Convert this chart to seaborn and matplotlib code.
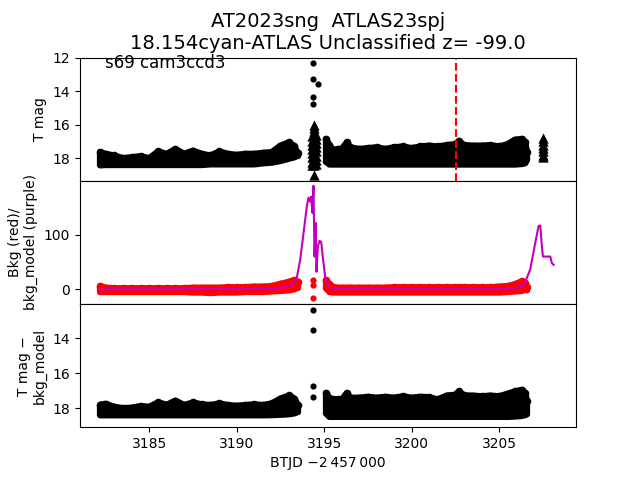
import numpy as np
import matplotlib
matplotlib.use("Agg")
import matplotlib.pyplot as plt
import seaborn as sns

# =========================
# DATA
# =========================

# first orbit, time grid and band envelopes
t_left = [3182.2, 3182.5, 3183.0, 3183.5, 3184.0, 3184.5, 3185.0, 3185.5, 3186.0,
          3186.5, 3187.0, 3187.5, 3188.0, 3188.5, 3189.0, 3189.5, 3190.0, 3190.5,
          3191.0, 3191.5, 3192.0, 3192.5, 3193.0, 3193.3, 3193.5]
mag_left_hi = [17.64, 17.74, 17.84, 18.0, 17.94, 17.88, 18.0, 17.6, 17.74,
               17.45, 17.74, 17.55, 17.74, 17.84, 17.6, 17.74, 17.8, 17.74,
               17.74, 17.68, 17.64, 17.25, 17.05, 17.3, 17.7]
mag_left_lo = [18.43, 18.41, 18.41, 18.41, 18.41, 18.41, 18.41, 18.41, 18.41,
               18.41, 18.41, 18.41, 18.41, 18.37, 18.37, 18.37, 18.37, 18.37,
               18.37, 18.31, 18.27, 18.17, 18.03, 17.95, 17.85]

# second orbit
t_right = [3195.1, 3195.3, 3195.5, 3195.8, 3196.0, 3196.3, 3196.5, 3197.0, 3197.5,
           3198.0, 3198.5, 3199.0, 3199.5, 3200.0, 3200.5, 3201.0, 3201.5, 3202.0,
           3202.5, 3202.7, 3203.0, 3203.5, 3204.0, 3204.5, 3205.0, 3205.5, 3205.9,
           3206.3, 3206.5, 3206.6]
mag_right_hi = [16.85, 17.2, 17.5, 17.45, 17.45, 17.05, 17.35, 17.45, 17.4,
                17.35, 17.45, 17.35, 17.3, 17.4, 17.3, 17.25, 17.3, 17.22,
                17.16, 16.97, 17.22, 17.25, 17.25, 17.22, 17.3, 17.16, 16.9,
                16.85, 17.05, 17.64]
mag_right_lo = [18.2, 18.38, 18.38, 18.38, 18.38, 18.38, 18.38, 18.38, 18.38,
                18.38, 18.38, 18.38, 18.38, 18.38, 18.38, 18.38, 18.38, 18.38,
                18.38, 18.38, 18.38, 18.38, 18.38, 18.38, 18.38, 18.38, 18.38,
                18.35, 18.3, 18.1]

# bright outliers and upper limits (top panel)
t_spike = [3194.39, 3194.39, 3194.62, 3194.39, 3194.39]
mag_spike = [12.32, 13.3, 13.6, 14.33, 14.79]
t_lim = [3194.42, 3194.42, 3194.42, 3194.42, 3194.42, 3194.42, 3194.42, 3194.42,
         3194.42, 3194.42, 3194.42, 3194.42, 3194.42,
         3194.33, 3194.33, 3194.33, 3194.33, 3194.33, 3194.33, 3194.33, 3194.33,
         3194.51, 3194.51, 3194.51, 3194.51, 3194.51, 3194.51, 3194.51, 3194.51,
         3194.42,
         3207.49, 3207.49, 3207.49, 3207.49, 3207.49, 3207.49, 3207.49]
mag_lim = [16.0, 16.2, 16.4, 16.6, 16.8, 17.0, 17.2, 17.4, 17.6, 17.8, 18.0, 18.2, 18.4,
           16.7, 16.95, 17.2, 17.45, 17.7, 17.95, 18.2, 18.4,
           16.6, 16.85, 17.1, 17.35, 17.6, 17.85, 18.1, 18.35,
           19.03,
           16.8, 17.0, 17.2, 17.4, 17.6, 17.8, 17.95]

# background flux (red) envelopes
bkg_left_hi = [6, 3, 2, 2, 2, 2, 2, 2, 2, 2, 2, 3, 3, 3, 3, 4, 4, 4, 5, 5, 6, 10, 14, 17, 14]
bkg_left_lo = [-5, -5, -5, -5, -5, -5, -5, -5, -5, -5, -5, -6, -6, -7, -6, -6, -6, -5,
               -5, -5, -4, -3, -2, 0, 3]
bkg_right_hi = [17, 10, 4, 3, 3, 3, 3, 3, 3, 3, 3, 4, 4, 4, 4, 4, 4, 4, 4, 4, 4, 4, 4,
                4, 5, 6, 9, 15, 12, 5]
bkg_right_lo = [2, -5, -6, -6, -6, -6, -6, -6, -6, -6, -6, -6, -6, -6, -6, -6, -6, -6,
                -6, -6, -6, -6, -6, -6, -6, -5, -4, -3, -1, -2]
t_bkg_gap = [3194.39, 3194.39, 3194.39]
bkg_gap = [17, 8, -16.6]

# background model (purple)
model_t = [3182.2, 3186.0, 3190.0, 3192.0, 3192.86, 3193.24, 3193.44, 3193.63, 3193.82,
           3194.01, 3194.1, 3194.2, 3194.25, 3194.33, 3194.39, 3194.45, 3194.51,
           3194.56, 3194.64, 3194.73, 3194.83, 3194.92, 3195.06, 3195.25, 3195.5,
           3198.0, 3202.0, 3205.0, 3205.83, 3206.4, 3206.78, 3207.07, 3207.26,
           3207.36, 3207.45, 3207.51, 3207.93, 3208.02, 3208.12]
model_v = [0, 0, 1, 2, 4, 10, 22, 54, 103, 152, 168, 161, 170, 140, 190, 60, 122, 32,
           78, 89, 87, 60, 23, 4, 1, 1, 1, 1, 2, 6, 36, 85, 116, 117, 78, 60, 60, 48, 45]

# background-subtracted magnitude (bottom panel)
sub_left_hi = [17.8, 17.75, 17.92, 18.0, 17.97, 17.88, 17.92, 17.67, 17.8,
               17.57, 17.82, 17.67, 17.78, 17.82, 17.73, 17.82, 17.86, 17.82,
               17.78, 17.82, 17.73, 17.45, 17.27, 17.45, 17.82]
sub_left_lo = [18.41, 18.41, 18.41, 18.41, 18.41, 18.41, 18.41, 18.41, 18.41,
               18.41, 18.41, 18.41, 18.41, 18.41, 18.41, 18.41, 18.41, 18.41,
               18.41, 18.41, 18.4, 18.38, 18.35, 18.3, 18.22]
sub_right_hi = [17.13, 17.4, 17.5, 17.5, 17.5, 17.13, 17.4, 17.4, 17.35,
                17.4, 17.35, 17.4, 17.32, 17.4, 17.35, 17.37, 17.5, 17.28,
                17.23, 17.04, 17.27, 17.28, 17.32, 17.28, 17.32, 17.17, 17.04,
                16.95, 17.13, 17.6]
sub_right_lo = [18.3, 18.5, 18.5, 18.5, 18.5, 18.5, 18.5, 18.5, 18.5,
                18.5, 18.5, 18.5, 18.5, 18.5, 18.5, 18.5, 18.5, 18.5,
                18.5, 18.5, 18.5, 18.5, 18.5, 18.5, 18.5, 18.5, 18.48,
                18.45, 18.4, 18.35]
t_sub_spike = [3194.39, 3194.39, 3194.39, 3194.39]
sub_spike = [12.39, 13.53, 16.73, 17.37]

atlas_epoch = 3202.55

# =========================
# FIGURE
# =========================

fig, axes = plt.subplots(3, 1, sharex=True, figsize=(6.4, 4.8), dpi=100)
fig.subplots_adjust(hspace=0)
ax1, ax2, ax3 = axes


def band(ax, t, lo, hi, color):
    # dense cloud of points: filled envelope with a thick rounded rim
    ax.fill_between(t, lo, hi, color=color, lw=0)
    for edge in (hi, lo):
        sns.lineplot(x=t, y=edge, ax=ax, color=color, lw=4.5,
                     solid_capstyle="round", solid_joinstyle="round",
                     sort=False, estimator=None)
    sns.lineplot(x=[t[0], t[0]], y=[lo[0], hi[0]], ax=ax, color=color, lw=4.5,
                 solid_capstyle="round", sort=False, estimator=None)
    sns.lineplot(x=[t[-1], t[-1]], y=[lo[-1], hi[-1]], ax=ax, color=color, lw=4.5,
                 solid_capstyle="round", sort=False, estimator=None)
    # bumpy top edge of the cloud
    sns.scatterplot(x=t, y=hi, ax=ax, color=color, s=30, linewidth=0)


# top: T mag
band(ax1, t_left, mag_left_lo, mag_left_hi, "k")
band(ax1, t_right, mag_right_lo, mag_right_hi, "k")
sns.scatterplot(x=t_spike, y=mag_spike, ax=ax1, color="k", s=20, linewidth=0)
sns.scatterplot(x=t_lim, y=mag_lim, ax=ax1, color="k", marker="^", s=55, linewidth=0)
ax1.axvline(atlas_epoch, color="r", ls="--", lw=1.5)
ax1.set_ylim(19.35, 12)
ax1.set_yticks([12, 14, 16, 18])
ax1.set_ylabel("T mag")
ax1.text(0.05, 0.955, "s69 cam3ccd3", transform=ax1.transAxes,
         fontsize=12, va="center", ha="left")
ax1.set_title("AT2023sng  ATLAS23spj\n18.154cyan-ATLAS Unclassified z= -99.0",
              fontsize=14)

# middle: background
band(ax2, t_left, bkg_left_lo, bkg_left_hi, "r")
band(ax2, t_right, bkg_right_lo, bkg_right_hi, "r")
sns.scatterplot(x=t_bkg_gap, y=bkg_gap, ax=ax2, color="r", s=20, linewidth=0)
sns.lineplot(x=model_t, y=model_v, ax=ax2, color="m", lw=1.5,
             sort=False, estimator=None)
ax2.set_ylim(-27, 199)
ax2.set_yticks([0, 100])
ax2.set_ylabel("Bkg (red)/\nbkg_model (purple)")

# bottom: background subtracted
band(ax3, t_left, sub_left_lo, sub_left_hi, "k")
band(ax3, t_right, sub_right_lo, sub_right_hi, "k")
sns.scatterplot(x=t_sub_spike, y=sub_spike, ax=ax3, color="k", s=20, linewidth=0)
ax3.set_ylim(19.09, 12.04)
ax3.set_yticks([14, 16, 18])
ax3.set_ylabel("T mag \u2212\nbkg_model")

ax3.set_xlim(3181.04, 3209.4)
ax3.set_xticks([3185, 3190, 3195, 3200, 3205])
ax3.set_xlabel("BTJD \u22122\u2009457\u2009000")

plt.savefig("out.png", dpi=100)
